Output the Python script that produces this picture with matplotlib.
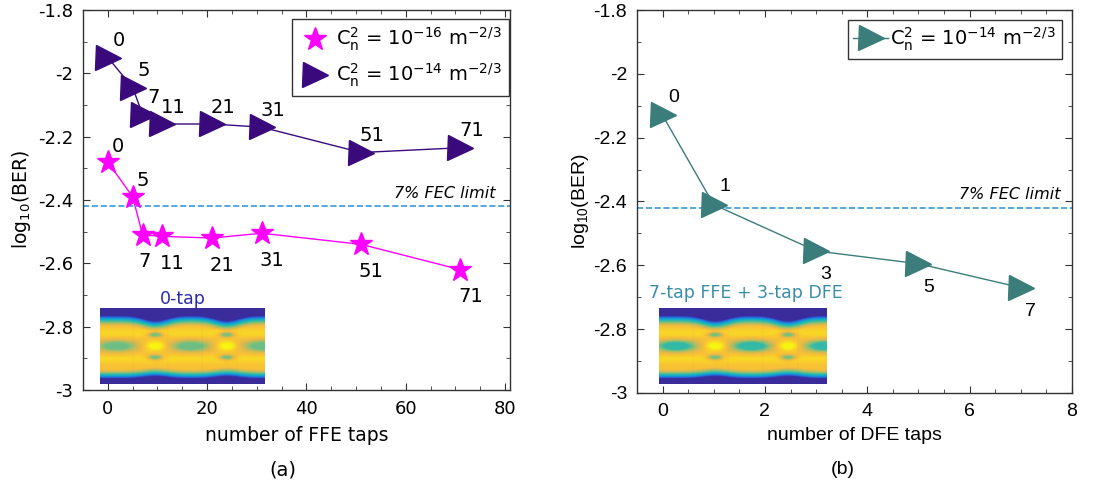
import numpy as np
import matplotlib
matplotlib.use('Agg')
import matplotlib.pyplot as plt
from matplotlib.colors import LinearSegmentedColormap
from matplotlib.ticker import MultipleLocator

plt.rcParams['axes.unicode_minus'] = False
plt.rcParams['mathtext.default'] = 'regular'

# (a) log10(BER) vs number of FFE taps
ffe_taps = [0, 5, 7, 11, 21, 31, 51, 71]
ber_weak = [-2.28, -2.39, -2.51, -2.515, -2.52, -2.505, -2.54, -2.62]     # Cn2 = 1e-16
ber_strong = [-1.95, -2.045, -2.13, -2.16, -2.16, -2.17, -2.25, -2.235]   # Cn2 = 1e-14

# (b) log10(BER) vs number of DFE taps (7-tap FFE)
dfe_taps = [0, 1, 3, 5, 7]
ber_dfe = [-2.13, -2.41, -2.555, -2.595, -2.67]

fec_limit = -2.42

MAGENTA = '#ff00ff'
PURPLE = '#3a0a7d'
TEAL = '#3a7d7a'
FEC_COLOR = '#3a9ad9'

parula = LinearSegmentedColormap.from_list('parula', [
    (0.00, '#3a2c9a'), (0.15, '#2f4fd8'), (0.30, '#1a8ad8'), (0.42, '#0fb0c8'),
    (0.52, '#3abba0'), (0.62, '#8fc070'), (0.72, '#d8b850'), (0.82, '#f9c036'),
    (1.00, '#f6f510')])


def eye_image(open_eye=False, nx=220, ny=90):
    """Rough eye-diagram picture for the insets."""
    u = np.linspace(0, 1, nx)[None, :]
    v = np.linspace(0, 1, ny)[:, None]
    cx = [0.335, 0.77]
    ex = [0.10, 0.55, 0.99]
    dip = sum(np.exp(-((u - c) / 0.10) ** 2) for c in cx)
    top = 0.10 + 0.07 * dip
    bot = 0.93 - 0.03 * dip
    body = 0.82 + 0.08 * np.exp(-((np.abs(v - 0.5) - 0.17) / 0.06) ** 2)
    f = body * np.clip((v - top) / 0.14, 0, 1) ** 0.6
    f = np.minimum(f, body * np.clip((bot - v) / 0.12, 0, 1) ** 0.6)
    eye_val = 0.50 if open_eye else 0.58
    for e in ex:
        r = ((u - e) / 0.12) ** 2 + ((v - 0.5) / 0.075) ** 2
        w = np.clip(1.4 * np.exp(-r), 0, 1)
        f = f - (f - eye_val) * w
    for c in cx:
        r = ((u - c) / 0.055) ** 2 + ((v - 0.5) / 0.06) ** 2
        f = f + (1 - f) * np.clip(1.3 * np.exp(-r), 0, 1)
        for dv in (-0.15, 0.15):
            r = ((u - c) / 0.045) ** 2 + ((v - 0.5 - dv) / 0.035) ** 2
            f = f - (f - 0.6) * np.clip(1.3 * np.exp(-r), 0, 1)
    for g in (0.2, 0.41, 0.62, 0.83):
        f = f * (1 - 0.04 * np.exp(-((u - g) / 0.004) ** 2))
    return f


def style_axes(ax, xminor):
    ax.tick_params(which='both', direction='in', top=True, right=True, colors='#333333')
    ax.tick_params(which='major', length=5, labelcolor='black', pad=7)
    ax.tick_params(which='minor', length=3)
    ax.xaxis.set_minor_locator(MultipleLocator(xminor))
    ax.yaxis.set_major_locator(MultipleLocator(0.2))
    ax.yaxis.set_minor_locator(MultipleLocator(0.1))
    for s in ax.spines.values():
        s.set_color('#333333')
        s.set_linewidth(1.0)


fig = plt.figure(figsize=(11.13, 4.88), dpi=100)

# ---------------- (a) ----------------
ax1 = fig.add_axes([0.0746, 0.2008, 0.3836, 0.7787])
ax1.imshow(eye_image(), cmap=parula, vmin=0, vmax=1, aspect='auto',
           extent=[-1.6, 31.5, -2.981, -2.744], zorder=1, interpolation='bilinear')
ax1.text(15, -2.712, '0-tap', color='#2b2ba8', fontsize=12.5, ha='center', va='center')
ax1.axhline(fec_limit, color=FEC_COLOR, ls='--', lw=1.2, zorder=2)
ax1.text(78, fec_limit + 0.018, '7% FEC limit', style='italic', fontsize=11.5,
         ha='right', va='bottom')
ax1.plot(ffe_taps, ber_weak, '-', color=MAGENTA, lw=1.0, marker='*', ms=17,
         mec=MAGENTA, mfc=MAGENTA, zorder=3)
ax1.plot(ffe_taps, ber_strong, '-', color=PURPLE, lw=1.0, marker='>', ms=18,
         mec=PURPLE, mfc=PURPLE, zorder=3)
for i, (x, y) in enumerate(zip(ffe_taps, ber_weak)):
    if i < 2:
        off = (10, 16)
    else:
        off = (2 if x == 7 else 10, -27)   # '7' nudged left so it clears '11'
    ax1.annotate(str(x), (x, y), xytext=off, textcoords='offset pixels',
                 ha='center', va='center', fontsize=14)
for x, y in zip(ffe_taps, ber_strong):
    ax1.annotate(str(x), (x, y), xytext=(11, 17), textcoords='offset pixels',
                 ha='center', va='center', fontsize=14)

h1 = ax1.plot([], [], ls='none', marker='*', ms=17, color=MAGENTA)[0]
h2 = ax1.plot([], [], ls='none', marker='>', ms=18, color=PURPLE)[0]
leg = ax1.legend([h1, h2], [r'$C_n^2$ = 10$^{-16}$ m$^{-2/3}$',
                            r'$C_n^2$ = 10$^{-14}$ m$^{-2/3}$'],
                 loc='upper right', bbox_to_anchor=(0.997, 0.976), borderaxespad=0,
                 fontsize=14, fancybox=False, framealpha=1, handletextpad=0.3,
                 borderpad=0.35, labelspacing=0.45, handlelength=1.6)
leg.get_frame().set_edgecolor('#333333')
leg.get_frame().set_linewidth(1.0)

ax1.set_xlim(-5, 81)
ax1.set_ylim(-3, -1.8)
ax1.set_xticks([0, 20, 40, 60, 80])
style_axes(ax1, 5)
ax1.tick_params(labelsize=13)
ax1.set_yticks(np.round(np.arange(-3, -1.79, 0.2), 1))
ax1.set_yticklabels(['-3', '-2.8', '-2.6', '-2.4', '-2.2', '-2', '-1.8'])
ax1.set_xlabel('number of FFE taps', fontsize=13.5, labelpad=6)
ax1.set_ylabel(r'log$_{10}$(BER)', fontsize=13.5, labelpad=4)
fig.text(0.2543, 0.037, '(a)', fontsize=14, ha='center', va='center')

# ---------------- (b) ----------------
ax2 = fig.add_axes([0.5723, 0.1947, 0.3909, 0.7848])
ax2.imshow(eye_image(open_eye=True), cmap=parula, vmin=0, vmax=1, aspect='auto',
           extent=[-0.07, 3.2, -2.972, -2.737], zorder=1, interpolation='bilinear')
ax2.text(1.63, -2.687, '7-tap FFE + 3-tap DFE', color='#3a8eaa', fontsize=12.5,
         ha='center', va='center')
ax2.axhline(fec_limit, color=FEC_COLOR, ls='--', lw=1.2, zorder=2)
ax2.text(7.77, fec_limit + 0.018, '7% FEC limit', style='italic', fontsize=11.5,
         ha='right', va='bottom')
ax2.plot(dfe_taps, ber_dfe, '-', color=TEAL, lw=1.0, marker='>', ms=18,
         mec=TEAL, mfc=TEAL, zorder=3,
         label=r'$C_n^2$ = 10$^{-14}$ m$^{-2/3}$')
for i, (x, y) in enumerate(zip(dfe_taps, ber_dfe)):
    off = (11, 18) if i < 2 else (10, -24)
    ax2.annotate(str(x), (x, y), xytext=off, textcoords='offset pixels',
                 ha='center', va='center', fontsize=14, family='Liberation Sans')
leg2 = ax2.legend(loc='upper right', bbox_to_anchor=(0.977, 0.975), borderaxespad=0,
                  fontsize=14, fancybox=False, framealpha=1, handletextpad=0.1,
                  borderpad=0.3, handlelength=1.8)
leg2.get_frame().set_edgecolor('#333333')
leg2.get_frame().set_linewidth(1.0)

ax2.set_xlim(-0.5, 8)
ax2.set_ylim(-3, -1.8)
ax2.set_xticks([0, 2, 4, 6, 8])
style_axes(ax2, 0.5)
ax2.set_yticks(np.round(np.arange(-3, -1.79, 0.2), 1))
ax2.set_yticklabels(['-3', '-2.8', '-2.6', '-2.4', '-2.2', '-2', '-1.8'])
for lab in ax2.get_xticklabels() + ax2.get_yticklabels():
    lab.set_family('Liberation Sans')
    lab.set_fontsize(14)
ax2.set_xlabel('number of DFE taps', fontsize=14, family='Liberation Sans', labelpad=5)
ax2.set_ylabel(r'log$_{10}$(BER)', fontsize=14, family='Liberation Sans', labelpad=2)
fig.text(0.7574, 0.037, '(b)', fontsize=14, ha='center', va='center',
         family='Liberation Sans')

fig.savefig('out.png', dpi=100)
